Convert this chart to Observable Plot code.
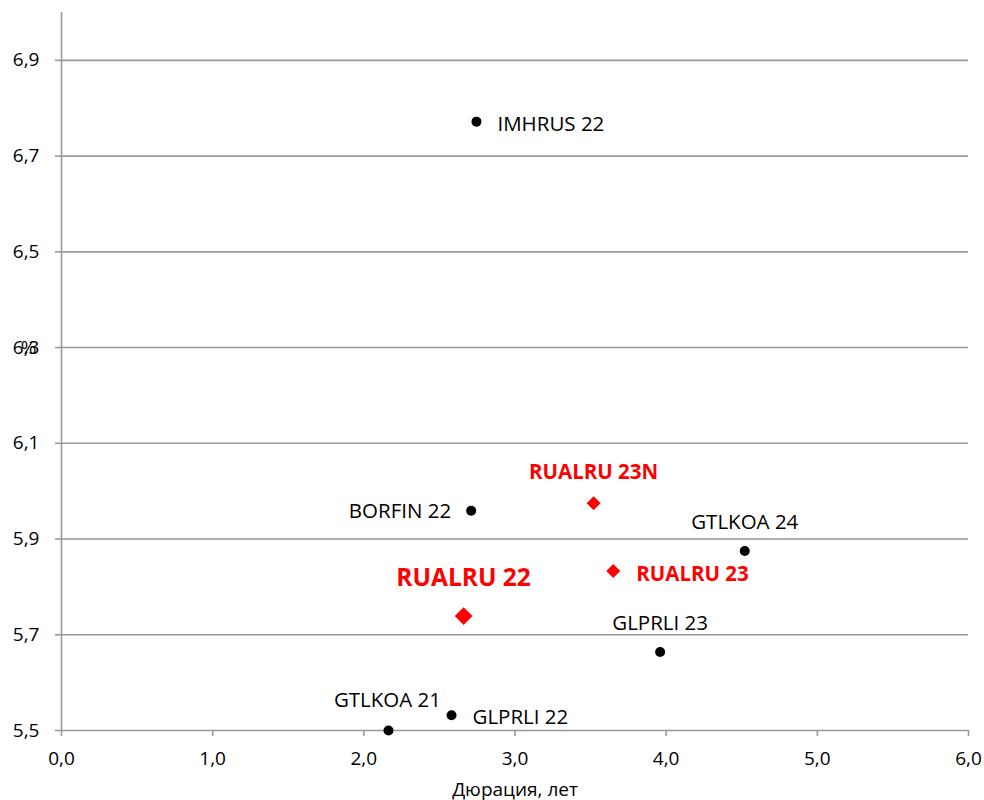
<!DOCTYPE html>
<html><head><meta charset="utf-8">
<script src="https://cdn.jsdelivr.net/npm/d3@7"></script>
<script src="https://cdn.jsdelivr.net/npm/@observablehq/plot@0.6"></script>
<style>body{margin:0;background:#fff;font-family:"Open Sans",sans-serif}</style>
</head><body><div id="chart"></div>
<script>
const names = ["IMHRUS 22","BORFIN 22","GTLKOA 24","GLPRLI 23","GTLKOA 21","GLPRLI 22","RUALRU 23N","RUALRU 23","RUALRU 22"];
const duration = [2.745, 2.71, 4.52, 3.96, 2.163, 2.58, 3.52, 3.65, 2.66];
const yieldPct = [6.772, 5.959, 5.875, 5.664, 5.5, 5.532, 5.975, 5.833, 5.739];
const isRusal = [false,false,false,false,false,false,true,true,true];
const xTicks = [0,1,2,3,4,5,6];
const yTicks = [5.5,5.7,5.9,6.1,6.3,6.5,6.7,6.9];

const data = names.map((n,i)=>({name:n, x:duration[i], y:yieldPct[i], rusal:isRusal[i]}));
// label placement (style)
const place = {
  "IMHRUS 22":{dx:21,dy:3,a:"start"},
  "BORFIN 22":{dx:-20,dy:1,a:"end"},
  "GTLKOA 24":{dx:0,dy:-29,a:"middle"},
  "GLPRLI 23":{dx:0,dy:-29,a:"middle"},
  "GTLKOA 21":{dx:-1,dy:-30,a:"middle"},
  "GLPRLI 22":{dx:21,dy:2,a:"start"},
  "RUALRU 23N":{dx:0,dy:-31,a:"middle"},
  "RUALRU 23":{dx:23,dy:3,a:"start"},
  "RUALRU 22":{dx:0,dy:-38,a:"middle"}
};
const fmt = d => d3.format(".1f")(d).replace(".", ",");
const black = data.filter(d=>!d.rusal);
const redBig = data.filter(d=>d.name==="RUALRU 22");
const redSmall = data.filter(d=>d.rusal && d.name!=="RUALRU 22");
const textMarks = data.map(d=>{
  const p = place[d.name];
  const big = d.name==="RUALRU 22";
  return Plot.text([d], {x:"x", y:"y", text:"name", dx:p.dx, dy:p.dy, textAnchor:p.a,
    fill: d.rusal ? "#ff0000" : "#000", fontWeight: d.rusal ? "bold" : "normal",
    fontSize: big ? 24.5 : 20.5});
});

const chart = Plot.plot({
  width: 984, height: 800,
  marginLeft: 61, marginRight: 16, marginTop: 12, marginBottom: 70,
  style: {fontFamily: "'Open Sans', sans-serif", fontSize: "19px", background: "#fff", color:"#000", overflow:"visible"},
  x: {domain:[0,6]},
  y: {domain:[5.5,7.0]},
  marks: [
    Plot.ruleY(yTicks.filter(t=>t>5.5), {stroke:"#999", strokeWidth:1.6}),
    Plot.ruleY([5.5], {stroke:"#999", strokeWidth:1.6}),
    Plot.ruleX([0], {stroke:"#999", strokeWidth:1.6}),
    Plot.axisX({ticks:xTicks, tickSize:6, tickFormat:()=>"", stroke:"#999", strokeWidth:1.6, label:null}),
    Plot.axisX({ticks:xTicks, tickSize:0, tickPadding:21, tickFormat:fmt, fill:"#000", fontSize:19, label:null}),
    Plot.axisY({ticks:yTicks, tickSize:6, tickFormat:()=>"", stroke:"#999", strokeWidth:1.6, label:null}),
    Plot.axisY({ticks:yTicks, tickSize:0, tickPadding:22, tickFormat:fmt, fill:"#000", fontSize:19, label:null}),
    Plot.text(["%"], {frameAnchor:"left", dx:-25, y:6.3, fontSize:19, textAnchor:"end"}),
    Plot.text(["Дюрация, лет"], {frameAnchor:"bottom", dy:65, fontSize:19}),
    Plot.dot(black, {x:"x", y:"y", r:5, fill:"#000"}),
    Plot.dot(redSmall, {x:"x", y:"y", symbol:"diamond2", r:6.3, fill:"#ff0000"}),
    Plot.dot(redBig, {x:"x", y:"y", symbol:"diamond2", r:8, fill:"#ff0000"}),
    ...textMarks
  ]
});
document.getElementById("chart").append(chart);
</script></body></html>
